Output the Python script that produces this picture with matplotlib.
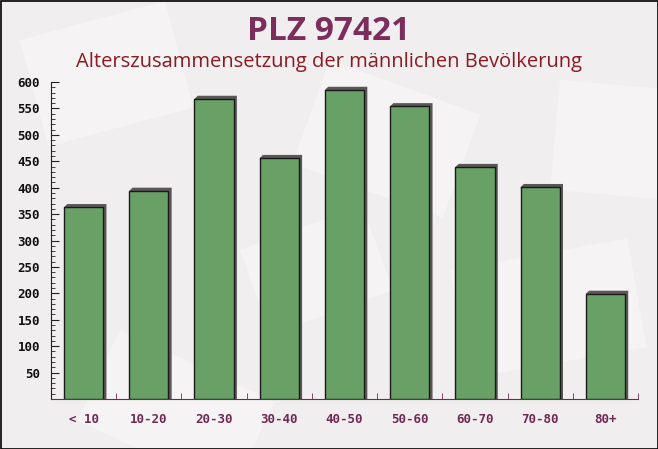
import matplotlib
matplotlib.use("Agg")
import matplotlib.pyplot as plt
from matplotlib.patches import Polygon, Rectangle
from matplotlib.ticker import MultipleLocator
import numpy as np

# data
groups = ["< 10", "10-20", "20-30", "30-40", "40-50", "50-60", "60-70", "70-80", "80+"]
men = [363, 394, 568, 456, 585, 554, 439, 401, 199]

title = "PLZ 97421"
subtitle = "Alterszusammensetzung der männlichen Bevölkerung"

bar_color = "#68a065"
shadow_color = "#5b5758"
title_color = "#7b2d5c"
sub_color = "#8b1a22"
xlab_color = "#6e2a55"

fig = plt.figure(figsize=(6.58, 4.49), dpi=100)
fig.patch.set_facecolor("#f1eeef")

# faint envelope-like shapes in the background
bg = fig.add_axes([0, 0, 1, 1], zorder=-5)
bg.set_xlim(0, 658); bg.set_ylim(449, 0); bg.axis("off")
for (x, y, w, h, a) in [(20, 40, 150, 110, -15), (330, 60, 160, 110, 20), (450, 270, 180, 110, -10),
                        (120, 330, 170, 100, 25), (560, 80, 120, 110, 5), (240, 250, 130, 90, -20)]:
    bg.add_patch(Rectangle((x, y), w, h, angle=a, color="white", alpha=0.35, lw=0))
bg.add_patch(Rectangle((0.5, 0.5), 657, 448, fill=False, ec="black", lw=1.2))

ax = fig.add_axes([51 / 658, 50 / 449, 587 / 658, 317 / 449])
ax.patch.set_alpha(0)
x = np.arange(len(groups))
w = 0.6
dx, dy = 0.05, 6
for xi, h in zip(x, men):
    x0, x1 = xi - w / 2, xi + w / 2
    ax.add_patch(Polygon([(x0, h), (x0 + dx, h + dy), (x1 + dx, h + dy), (x1 + dx, 0), (x1, 0)],
                         closed=True, color=shadow_color, lw=0, zorder=2))
ax.bar(x, men, width=w, color=bar_color, edgecolor="#1a1a1a", linewidth=1.0, zorder=3)

ax.set_xlim(-0.5, len(groups) - 0.5)
ax.set_ylim(0, 600)
ax.set_yticks(range(50, 601, 50))
ax.yaxis.set_minor_locator(MultipleLocator(10))
ax.set_xticks(x)
ax.set_xticklabels(groups)
ax.set_xticks(np.arange(-0.5, len(groups), 0.5)[1:], minor=True)

for s in ["top", "right"]:
    ax.spines[s].set_visible(False)
ax.spines["left"].set_color("#222222")
ax.spines["bottom"].set_color(xlab_color)
ax.tick_params(axis="y", which="major", direction="in", length=6, color="#222222",
               labelsize=9, pad=8)
ax.tick_params(axis="y", which="minor", direction="in", length=3, color="#222222")
ax.tick_params(axis="x", which="major", length=0, pad=10)
ax.tick_params(axis="x", which="minor", direction="in", length=4, color=xlab_color)
for lab in ax.get_yticklabels():
    lab.set_fontfamily("DejaVu Sans Mono"); lab.set_fontweight("bold"); lab.set_color("#111111")
for lab in ax.get_xticklabels():
    lab.set_fontfamily("DejaVu Sans Mono"); lab.set_fontweight("bold"); lab.set_color(xlab_color)
    lab.set_fontsize(9)

fig.text(0.5, 1 - 31 / 449, title, ha="center", va="center", fontsize=24, fontweight="bold",
         color=title_color, family="Open Sans")
fig.text(0.5, 1 - 62 / 449, subtitle, ha="center", va="center", fontsize=14.5,
         color=sub_color, family="Open Sans")

fig.savefig("out.png", dpi=100, facecolor=fig.get_facecolor())
